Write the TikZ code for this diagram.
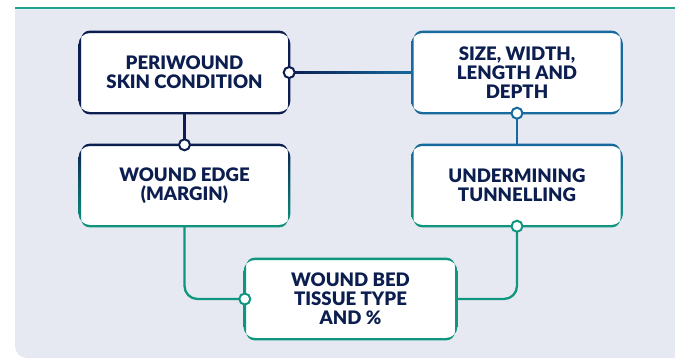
\documentclass[tikz,border=0pt]{standalone}
\usepackage{fontspec}
\setmainfont{Lato}
\newfontfamily\heavyfont{Lato Black}
\usepackage{tikz}
\usetikzlibrary{calc}
\definecolor{navy}{HTML}{0B1E4F}
\definecolor{seablue}{HTML}{17699E}
\definecolor{woundteal}{HTML}{0F967F}
\definecolor{topteal}{HTML}{1BA38B}
\definecolor{panelgrey}{HTML}{E6E9F1}
\tikzset{
  woundbox/.style={rectangle, rounded corners=10pt, minimum width=209pt, minimum height=81pt,
    fill=white, align=center, text=navy, font=\heavyfont\fontsize{18.6}{18.8}\selectfont, inner sep=0pt},
  linkdot/.style={circle, draw, fill=white, line width=2pt, minimum size=11pt, inner sep=0pt},
  link/.style={line width=2.3pt}
}
% ring with a vertical colour fade, drawn round a named box
\def\fadering[#1:#2](#3){%
  \shade[top color=#1, bottom color=#2, even odd rule]
    [rounded corners=11.2pt] ($(#3.south west)+(-1.2pt,1.2pt)$) rectangle ($(#3.north east)+(1.2pt,-1.2pt)$)
    [rounded corners=8.8pt] ($(#3.south west)+(1.2pt,-1.2pt)$) rectangle ($(#3.north east)+(-1.2pt,1.2pt)$);}

\begin{document}
\begin{tikzpicture}[x=1pt, y=-1pt]
  \useasboundingbox (0,0) rectangle (675,359);

  %%%%% BACKGROUND %%%%%
  \fill[panelgrey] (15,9.3) -- (680,9.3) -- (680,358) -- (27,358) arc (90:180:12) -- cycle;
  \fill[topteal] (15,6.7) rectangle (680,9.3);

  %%%%% BOXES %%%%%
  \node[woundbox] (peri)  at (184.5,72.5)  {PERIWOUND\\SKIN CONDITION};
  \node[woundbox] (size)  at (517,72.5)    {SIZE, WIDTH,\\LENGTH AND\\DEPTH};
  \node[woundbox] (edge)  at (184.5,185.5) {WOUND EDGE\\(MARGIN)};
  \node[woundbox] (under) at (517,185.5)   {UNDERMINING\\TUNNELLING};
  \node[woundbox, minimum width=211pt, minimum height=80pt] (bed) at (350.5,299) {WOUND BED\\TISSUE TYPE\\AND \%};

  \fadering[navy:navy](peri)
  \fadering[seablue:seablue](size)
  \fadering[navy:woundteal](edge)
  \fadering[seablue:woundteal](under)
  \fadering[woundteal:woundteal](bed)

  %%%%% LINKS %%%%%
  \shade[left color=navy, right color=seablue] ($(peri.east)+(0,-1.15pt)$) rectangle ($(size.west)+(0,1.15pt)$);
  \draw[link, navy] (peri.south) -- (edge.north);
  \draw[link, seablue] (size.south) -- (under.north);
  \draw[link, woundteal, rounded corners=13pt] (edge.south) |- (bed.west);
  \draw[link, woundteal, rounded corners=13pt] (under.south) |- (bed.east);

  \node[linkdot, draw=navy] (dotperi) at (peri.east) {};
  \node[linkdot, draw=navy] (dotedge) at (edge.north) {};
  \node[linkdot, draw=seablue] (dotsize) at (size.south) {};
  \node[linkdot, draw=woundteal] (dotunder) at (under.south) {};
  \node[linkdot, draw=woundteal] (dotbed) at (bed.west) {};
\end{tikzpicture}
\end{document}
